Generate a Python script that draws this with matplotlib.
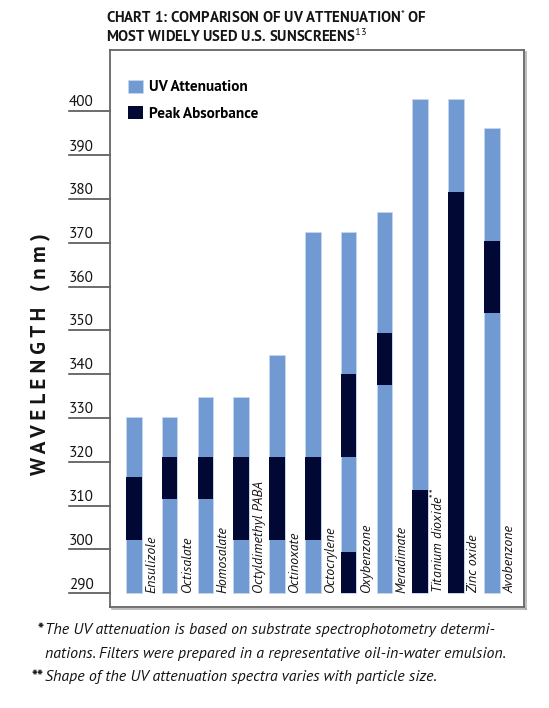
import matplotlib
matplotlib.use("Agg")
import matplotlib.pyplot as plt
import matplotlib.patheffects as pe
from matplotlib import font_manager
from matplotlib.transforms import blended_transform_factory


def has_styles(name):
    ents = [f for f in font_manager.fontManager.ttflist if f.name == name]
    def w(f):
        try:
            return int(f.weight)
        except (TypeError, ValueError):
            return {"bold": 700, "normal": 400, "regular": 400}.get(str(f.weight), 400)
    bold = any(w(f) >= 600 and f.style == "normal" for f in ents)
    reg = any(w(f) == 400 and f.style == "normal" for f in ents)
    ital = any(w(f) == 400 and f.style == "italic" for f in ents)
    return bold and reg and ital


FONT = next((f for f in ["Source Sans Pro", "Source Sans 3", "PT Sans", "Lato"]
             if has_styles(f)), "DejaVu Sans")
plt.rcParams['font.family'] = [FONT, 'DejaVu Sans']
plt.rcParams['mathtext.fontset'] = 'custom'
plt.rcParams['mathtext.rm'] = FONT
plt.rcParams['mathtext.it'] = FONT + ':italic'
plt.rcParams['mathtext.bf'] = FONT + ':bold'

# ---- data ----
names = ["Ensulizole", "Octisalate", "Homosalate", "Octyldimethyl PABA",
         "Octinoxate", "Octocrylene", "Oxybenzone", "Meradimate",
         "Titanium dioxide$^{**}$", "Zinc oxide", "Avobenzone"]
atten_top = [330.2, 330.2, 334.7, 334.7, 344.4, 372.5, 372.5, 377.0, 402.9, 402.9, 396.2]
peak_low = [302.2, 311.6, 311.6, 302.2, 302.2, 302.2, 321.0, 337.6, 290.0, 290.0, 354.0]
peak_high = [316.5, 321.0, 321.0, 321.0, 321.0, 321.0, 340.0, 349.5, 313.5, 381.7, 370.4]
peak2_low = [None, None, None, None, None, None, 290.0, None, None, None, None]
peak2_high = [None, None, None, None, None, None, 299.5, None, None, None, None]
base = 290
yticks = [290, 300, 310, 320, 330, 340, 350, 360, 370, 380, 390, 400]

light = "#729ad2"
dark = "#000833"
ink = "#141414"

W, H = 549, 708
fig = plt.figure(figsize=(W / 100, H / 100), dpi=100)
ax = fig.add_axes([110 / W, 1 - 607 / H, 414 / W, 557 / H])

x = list(range(len(names)))
bw = 0.435
ax.bar(x, [t - base for t in atten_top], bottom=base, width=bw, color=light,
       edgecolor="#c9d8ee", linewidth=0.5, label="UV Attenuation")
ax.bar(x, [h - l for h, l in zip(peak_high, peak_low)], bottom=peak_low, width=bw,
       color=dark, linewidth=0, label="Peak Absorbance")
for i, (l, h) in enumerate(zip(peak2_low, peak2_high)):
    if l is not None:
        ax.bar(i, h - l, bottom=l, width=bw, color=dark, linewidth=0)

ax.set_xlim(-0.665, 10.9)
ax.set_ylim(286.87, 414.0)
ax.set_xticks([])
ax.set_yticks([])
for name, s in ax.spines.items():
    s.set_color("#666666")
    s.set_linewidth(1.3)
    if name in ("right", "bottom"):
        s.set_path_effects([pe.SimpleLineShadow(offset=(1.2, -1.2), shadow_color="#999999", alpha=0.7),
                            pe.Normal()])

# bar labels
for i, n in enumerate(names):
    ax.text(i + 0.5, base, n, rotation=90, ha="center", va="bottom",
            fontsize=10, style="italic", color=ink)

# custom y ticks (line with label above, outside the axes)
tr = blended_transform_factory(ax.transAxes, ax.transData)
x0 = (69 - 110) / 414
for v in yticks:
    ax.plot([x0, 0], [v, v], transform=tr, color="#444444", lw=1.1, clip_on=False)
    ax.text(x0, v + 0.45, str(v), transform=tr, ha="left", va="bottom",
            fontsize=11, color=ink)

# y axis title
fig.text(40 / W, 1 - 354 / H, "W A V E L E N G T H   ( n m )", rotation=90,
         ha="center", va="center", fontsize=15, fontweight="bold", color=ink)

# legend
ax.legend(loc="upper left", bbox_to_anchor=(127.7 / W, 1 - 79.5 / H),
          bbox_transform=fig.transFigure, frameon=False, borderpad=0,
          borderaxespad=0, handlelength=0.98, handleheight=0.98,
          handletextpad=0.4, labelspacing=0.75,
          prop={"family": FONT, "weight": "bold", "size": 11})

# title (va='baseline' anchors the last line)
fig.text(106 / W, 1 - 42 / H,
         "CHART 1: COMPARISON OF UV ATTENUATION$^{*}$ OF\nMOST WIDELY USED U.S. SUNSCREENS$^{13}$",
         ha="left", va="baseline", fontsize=10.7, fontweight="bold", color=ink,
         linespacing=1.12)

# footnotes
fs = 11.4
fig.text(43 / W, 1 - 634 / H, "*", ha="right", va="baseline", fontsize=fs, fontweight="bold", color=ink)
fig.text(45 / W, 1 - 634 / H,
         "The UV attenuation is based on substrate spectrophotometry determi-",
         ha="left", va="baseline", fontsize=fs, style="italic", color=ink)
fig.text(45 / W, 1 - 658 / H,
         "nations. Filters were prepared in a representative oil-in-water emulsion.",
         ha="left", va="baseline", fontsize=fs, style="italic", color=ink)
fig.text(43 / W, 1 - 681 / H, "**", ha="right", va="baseline", fontsize=fs, fontweight="bold", color=ink)
fig.text(45 / W, 1 - 681 / H,
         "Shape of the UV attenuation spectra varies with particle size.",
         ha="left", va="baseline", fontsize=fs, style="italic", color=ink)

fig.savefig("out.png", dpi=100)
